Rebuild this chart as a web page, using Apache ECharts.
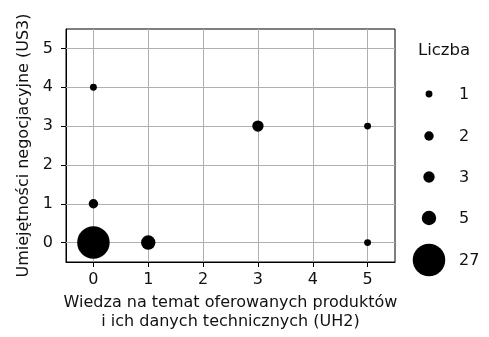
<!DOCTYPE html>
<html>
<head>
<meta charset="utf-8">
<script src="https://cdn.jsdelivr.net/npm/echarts@6/dist/echarts.min.js"></script>
<style>
  html, body { margin: 0; padding: 0; background: #fff; }
  #chart { width: 489px; height: 337px; }
</style>
</head>
<body>
<div id="chart"></div>
<script>
// Observations: UH2 score, US3 score, number of respondents
var uh2 = [0, 1, 0, 0, 3, 5, 5];
var us3 = [0, 0, 1, 4, 3, 3, 0];
var counts = [27, 5, 2, 1, 3, 1, 1];

// Size legend entries
var legendCounts = [1, 2, 3, 5, 27];

var tickValues = [0, 1, 2, 3, 4, 5];

var FONT = 'DejaVu Sans';
var TEXT = '#111';

function bubbleSize(n) {
  return 6.1 * Math.sqrt(n) + 0.8;
}

var points = uh2.map(function (x, i) { return [x, us3[i], counts[i]]; });

var chart = echarts.init(document.getElementById('chart'));

var axisCommon = {
  type: 'value',
  min: -0.5,
  max: 5.5,
  interval: 0.5,
  axisLine: { show: true, onZero: false, lineStyle: { color: '#000', width: 1 } },
  axisTick: {
    show: true, length: 5, inside: false,
    lineStyle: { color: '#000', width: 1 },
    customValues: tickValues
  },
  axisLabel: {
    color: TEXT, fontFamily: FONT, fontSize: 16,
    customValues: tickValues
  },
  splitLine: { show: false }
};

// Legend graphics: title, bubble, label
var legendGraphics = [{
  type: 'text', left: 418, top: 42,
  style: { text: 'Liczba', font: '16.5px ' + FONT, fill: TEXT }
}];
var legendY = [94, 136, 177, 218, 260];
legendCounts.forEach(function (n, i) {
  legendGraphics.push({
    type: 'circle',
    shape: { cx: 429, cy: legendY[i], r: bubbleSize(n) / 2 },
    style: { fill: '#000' }
  });
  legendGraphics.push({
    type: 'text', x: 459, y: legendY[i] + 1,
    style: { text: String(n), font: '16px ' + FONT, fill: TEXT, textVerticalAlign: 'middle' }
  });
});

var option = {
  animation: false,
  backgroundColor: '#fff',
  grid: { left: 66, right: 94, top: 29, bottom: 75, containLabel: false, show: true, borderColor: '#000', borderWidth: 1 },
  xAxis: Object.assign({}, axisCommon, {
    position: 'bottom',
    name: 'Wiedza na temat oferowanych produktów\ni ich danych technicznych (UH2)',
    nameLocation: 'middle',
    nameGap: 31,
    nameTextStyle: { color: TEXT, fontFamily: FONT, fontSize: 16, lineHeight: 19 },
    axisLabel: Object.assign({}, axisCommon.axisLabel, { margin: 10 })
  }),
  yAxis: Object.assign({}, axisCommon, {
    position: 'left',
    name: 'Umiejętności negocjacyjne (US3)',
    nameLocation: 'middle',
    nameGap: 29,
    nameTextStyle: { color: TEXT, fontFamily: FONT, fontSize: 16 },
    axisLabel: Object.assign({}, axisCommon.axisLabel, { margin: 13 })
  }),
  series: [
    {
      // grid lines at integer positions
      type: 'line',
      data: [],
      markLine: {
        silent: true,
        symbol: 'none',
        label: { show: false },
        lineStyle: { color: '#b0b0b0', type: 'solid', width: 1 },
        data: tickValues.map(function (v) { return { xAxis: v }; })
          .concat(tickValues.map(function (v) { return { yAxis: v }; }))
      },
      z: 1
    },
    {
      type: 'scatter',
      data: points,
      symbolSize: function (d) { return bubbleSize(d[2]); },
      itemStyle: { color: '#000', opacity: 1 },
      z: 5
    }
  ],
  graphic: legendGraphics
};

chart.setOption(option);
</script>
</body>
</html>
